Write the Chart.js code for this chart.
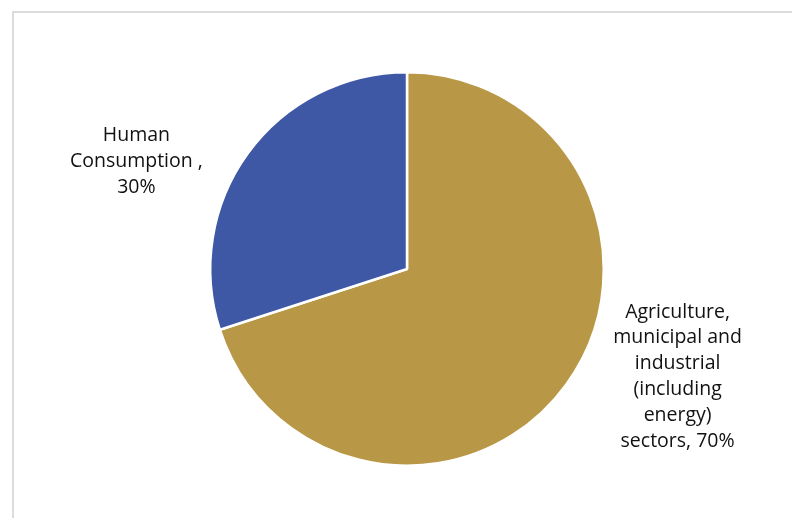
<!DOCTYPE html>
<html>
<head>
<meta charset="utf-8">
<script src="https://cdn.jsdelivr.net/npm/chart.js@4"></script>
<style>
  html, body { margin: 0; padding: 0; background: #fff; }
  #wrap { position: relative; width: 792px; height: 518px; overflow: hidden; }
  #frame {
    position: absolute; left: 12px; top: 11px; right: -4px; bottom: -4px;
    border-top: 2px solid #dcdcdc; border-left: 2px solid #dcdcdc;
  }
  #pieChart { position: absolute; left: 0; top: 0; }
</style>
</head>
<body>
<div id="wrap">
  <div id="frame"></div>
  <canvas id="pieChart" width="792" height="518"></canvas>
</div>
<script>
// data
const sectors = ["Agriculture, municipal and industrial (including energy) sectors", "Human Consumption "];
const shares = [70, 30];
const labelLines = [
  ["Agriculture,", "municipal and", "industrial", "(including", "energy)", "sectors, 70%"],
  ["Human", "Consumption ,", "30%"]
];
const sliceColors = ["#B89846", "#3E58A6"];

// draws the outside labels next to each slice
const outsideLabels = {
  id: 'outsideLabels',
  afterDatasetsDraw(chart) {
    const ctx = chart.ctx;
    const arcs = chart.getDatasetMeta(0).data;
    ctx.save();
    ctx.font = '500 19.5px "Open Sans", sans-serif';
    ctx.fillStyle = '#111';
    ctx.textAlign = 'center';
    ctx.textBaseline = 'middle';
    const lineH = 25.8;
    arcs.forEach((arc, i) => {
      const p = arc.getProps(['x', 'y', 'startAngle', 'endAngle', 'outerRadius'], true);
      const mid = (p.startAngle + p.endAngle) / 2;
      const lx = p.x + Math.cos(mid) * p.outerRadius * 1.70;
      const ly = p.y + Math.sin(mid) * p.outerRadius * 0.93;
      const lines = labelLines[i];
      const top = ly - (lines.length - 1) * lineH / 2;
      lines.forEach((t, j) => ctx.fillText(t, lx, top + j * lineH));
    });
    ctx.restore();
  }
};

const ctx = document.getElementById('pieChart').getContext('2d');
new Chart(ctx, {
  type: 'pie',
  data: {
    labels: sectors,
    datasets: [{
      data: shares,
      backgroundColor: sliceColors,
      borderColor: '#ffffff',
      borderWidth: 2.5
    }]
  },
  options: {
    responsive: false,
    animation: false,
    layout: { padding: { top: 71, bottom: 51, left: 209, right: 187 } },
    plugins: {
      legend: { display: false },
      tooltip: { enabled: false }
    }
  },
  plugins: [outsideLabels]
});
</script>
</body>
</html>
